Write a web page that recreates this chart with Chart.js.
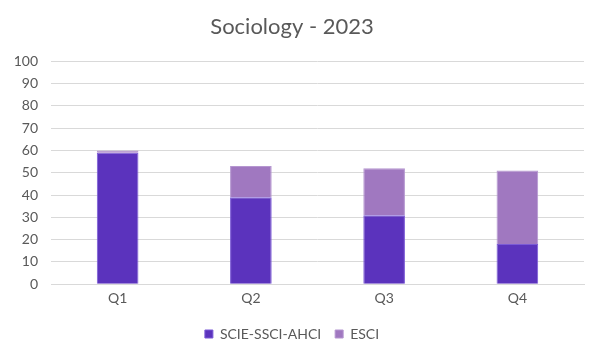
<!DOCTYPE html>
<html>
<head>
<meta charset="utf-8">
<script src="https://cdn.jsdelivr.net/npm/chart.js@4"></script>
<style>
  html, body { margin: 0; padding: 0; background: #fff; }
  #wrap { width: 602px; height: 361px; }
</style>
</head>
<body>
<div id="wrap"><canvas id="chart" width="602" height="361"></canvas></div>
<script>
const quarters = ['Q1', 'Q2', 'Q3', 'Q4'];
const scieValues = [59, 39, 31, 18];
const esciValues = [1, 14, 21, 33];
const yTicks = [0, 10, 20, 30, 40, 50, 60, 70, 80, 90, 100];

const ctx = document.getElementById('chart').getContext('2d');
new Chart(ctx, {
  type: 'bar',
  data: {
    labels: quarters,
    datasets: [
      {
        label: 'SCIE-SSCI-AHCI',
        data: scieValues,
        backgroundColor: '#5b33bd',
        borderColor: '#7b5ad6',
        borderWidth: 1
      },
      {
        label: 'ESCI',
        data: esciValues,
        backgroundColor: '#a078c0',
        borderColor: '#b596d0',
        borderWidth: 1
      }
    ]
  },
  options: {
    responsive: false,
    animation: false,
    layout: { padding: { left: 0, right: 18, top: 0, bottom: 10 } },
    datasets: {
      bar: { barPercentage: 0.625, categoryPercentage: 0.5 }
    },
    scales: {
      x: {
        stacked: true,
        grid: { display: false, drawTicks: false },
        border: { color: '#d9d9d9' },
        ticks: { color: '#595959', font: { family: 'Lato', size: 14 }, padding: 6 }
      },
      y: {
        stacked: true,
        min: 0,
        max: 100,
        afterBuildTicks: axis => { axis.ticks = yTicks.map(v => ({ value: v })); },
        afterFit: axis => { axis.width = 51; },
        grid: { color: '#d9d9d9', drawTicks: false },
        border: { display: false },
        ticks: { color: '#595959', font: { family: 'Lato', size: 14 }, padding: 13 }
      }
    },
    plugins: {
      title: {
        display: true,
        text: 'Sociology - 2023',
        color: '#595959',
        font: { family: 'Lato', size: 22, weight: 'normal' },
        padding: { top: 14, bottom: 21 }
      },
      legend: {
        position: 'bottom',
        labels: {
          color: '#595959',
          font: { family: 'Lato', size: 14 },
          boxWidth: 8,
          boxHeight: 8,
          padding: 14
        }
      },
      tooltip: { enabled: false }
    }
  }
});
</script>
</body>
</html>
